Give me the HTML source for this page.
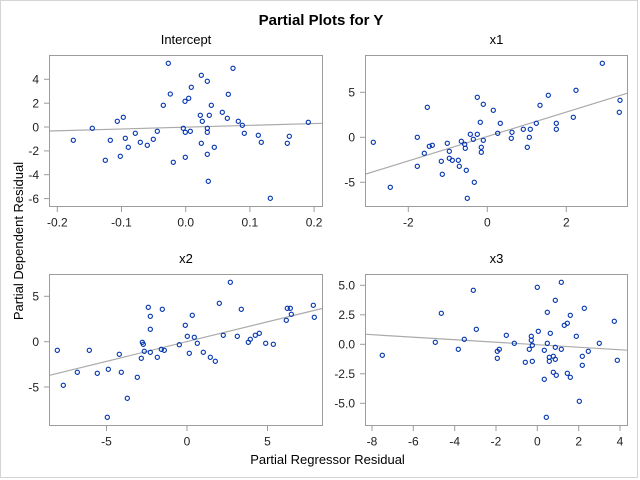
<!DOCTYPE html>
<html><head><meta charset="utf-8"><style>
html,body{margin:0;padding:0;background:#fff;}
svg{display:block;}
text{font-family:"Liberation Sans",Arial,sans-serif;}
.t{font-size:12px;fill:#222;}
.pt{font-size:13px;fill:#000;}
.f{fill:none;stroke:#9c9c9c;stroke-width:1;}
.tk{stroke:#9c9c9c;stroke-width:1;}
.rl{stroke:#aaaaaa;stroke-width:1.2;}
.m circle{fill:none;stroke:#0033b0;stroke-width:1.1;}
</style></head><body>
<svg width="640" height="480" viewBox="0 0 640 480" xmlns="http://www.w3.org/2000/svg">
<rect x="0" y="0" width="640" height="480" fill="#fff"/>
<rect x="0.5" y="0.5" width="637" height="477" fill="none" stroke="#d4d4d4" stroke-width="1"/>
<text x="321" y="25" text-anchor="middle" font-size="15" font-weight="bold" fill="#000">Partial Plots for Y</text>
<text x="327.5" y="464" text-anchor="middle" font-size="13" fill="#000">Partial Regressor Residual</text>
<text transform="translate(23,241) rotate(-90)" text-anchor="middle" font-size="13" fill="#000">Partial Dependent Residual</text>

<!-- Panel 1 Intercept -->
<text class="pt" x="186" y="44" text-anchor="middle">Intercept</text>
<line class="rl" x1="50" y1="131" x2="322" y2="123.3"/>
<rect class="f" x="49.5" y="55.5" width="273" height="151"/>
<g class="tk">
<line x1="44" y1="79.3" x2="49" y2="79.3"/><line x1="44" y1="103.2" x2="49" y2="103.2"/><line x1="44" y1="127" x2="49" y2="127"/><line x1="44" y1="150.9" x2="49" y2="150.9"/><line x1="44" y1="174.7" x2="49" y2="174.7"/><line x1="44" y1="198.6" x2="49" y2="198.6"/>
<line x1="57.3" y1="207" x2="57.3" y2="212"/><line x1="121.5" y1="207" x2="121.5" y2="212"/><line x1="185.7" y1="207" x2="185.7" y2="212"/><line x1="249.9" y1="207" x2="249.9" y2="212"/><line x1="314.1" y1="207" x2="314.1" y2="212"/>
</g>
<g class="t" text-anchor="end">
<text x="39" y="83.6">4</text><text x="39" y="107.5">2</text><text x="39" y="131.3">0</text><text x="39" y="155.2">-2</text><text x="39" y="179">-4</text><text x="39" y="202.9">-6</text>
</g>
<g class="t" text-anchor="middle">
<text x="57.3" y="226.5">-0.2</text><text x="121.5" y="226.5">-0.1</text><text x="185.7" y="226.5">0.0</text><text x="249.9" y="226.5">0.1</text><text x="314.1" y="226.5">0.2</text>
</g>
<g class="m">
<circle cx="168.3" cy="63.3" r="2.1"/><circle cx="233" cy="68.3" r="2.1"/><circle cx="201.3" cy="75.3" r="2.1"/><circle cx="207.3" cy="81.3" r="2.1"/><circle cx="191.3" cy="87.3" r="2.1"/><circle cx="170.3" cy="94" r="2.1"/><circle cx="228.3" cy="94.3" r="2.1"/><circle cx="188.7" cy="98.3" r="2.1"/><circle cx="185" cy="101.3" r="2.1"/><circle cx="163.3" cy="105.3" r="2.1"/><circle cx="211.3" cy="105.3" r="2.1"/><circle cx="222.3" cy="112.3" r="2.1"/><circle cx="200.3" cy="115.3" r="2.1"/><circle cx="209.3" cy="115.3" r="2.1"/><circle cx="123.3" cy="117.3" r="2.1"/><circle cx="227.3" cy="118.3" r="2.1"/><circle cx="117.3" cy="121.3" r="2.1"/><circle cx="202.3" cy="121.3" r="2.1"/><circle cx="238.3" cy="121.3" r="2.1"/><circle cx="308.3" cy="122.3" r="2.1"/><circle cx="242.3" cy="125.3" r="2.1"/><circle cx="92.3" cy="128.3" r="2.1"/><circle cx="183.3" cy="128.3" r="2.1"/><circle cx="207.3" cy="128.3" r="2.1"/><circle cx="157.3" cy="131.3" r="2.1"/><circle cx="190.3" cy="131.3" r="2.1"/><circle cx="185.3" cy="132.3" r="2.1"/><circle cx="207.3" cy="132.3" r="2.1"/><circle cx="135.3" cy="133.3" r="2.1"/><circle cx="244.3" cy="133.3" r="2.1"/><circle cx="258.3" cy="135.3" r="2.1"/><circle cx="289.3" cy="136.3" r="2.1"/><circle cx="73.3" cy="140.3" r="2.1"/><circle cx="110.3" cy="140.3" r="2.1"/><circle cx="125.3" cy="138.3" r="2.1"/><circle cx="153.3" cy="139.3" r="2.1"/><circle cx="140.3" cy="142.3" r="2.1"/><circle cx="261.3" cy="142.3" r="2.1"/><circle cx="201.3" cy="143.3" r="2.1"/><circle cx="287.3" cy="143.3" r="2.1"/><circle cx="147.3" cy="145.3" r="2.1"/><circle cx="128.3" cy="147.3" r="2.1"/><circle cx="214.3" cy="147.3" r="2.1"/><circle cx="207.3" cy="154.3" r="2.1"/><circle cx="120.3" cy="156.3" r="2.1"/><circle cx="185.3" cy="157.3" r="2.1"/><circle cx="105.3" cy="160.3" r="2.1"/><circle cx="173.3" cy="162.3" r="2.1"/><circle cx="208.3" cy="181.3" r="2.1"/><circle cx="270.3" cy="198.3" r="2.1"/>
</g>

<!-- Panel 2 x1 -->
<text class="pt" x="496.5" y="44" text-anchor="middle">x1</text>
<line class="rl" x1="366" y1="174" x2="627" y2="93.3"/>
<rect class="f" x="365.5" y="55.5" width="262" height="151"/>
<g class="tk">
<line x1="360" y1="92.3" x2="365" y2="92.3"/><line x1="360" y1="137.3" x2="365" y2="137.3"/><line x1="360" y1="182.3" x2="365" y2="182.3"/>
<line x1="408.3" y1="207" x2="408.3" y2="212"/><line x1="487.3" y1="207" x2="487.3" y2="212"/><line x1="566.3" y1="207" x2="566.3" y2="212"/>
</g>
<g class="t" text-anchor="end">
<text x="355" y="96.6">5</text><text x="355" y="141.6">0</text><text x="355" y="186.6">-5</text>
</g>
<g class="t" text-anchor="middle">
<text x="408.3" y="226.5">-2</text><text x="487.3" y="226.5">0</text><text x="566.3" y="226.5">2</text>
</g>
<g class="m">
<circle cx="602.3" cy="63.3" r="2.1"/><circle cx="477.3" cy="97.3" r="2.1"/><circle cx="576" cy="90.3" r="2.1"/><circle cx="548.3" cy="95.3" r="2.1"/><circle cx="427.3" cy="107.3" r="2.1"/><circle cx="483.3" cy="104.3" r="2.1"/><circle cx="540" cy="105.3" r="2.1"/><circle cx="493.3" cy="110.3" r="2.1"/><circle cx="620" cy="100.3" r="2.1"/><circle cx="619.3" cy="112.3" r="2.1"/><circle cx="573.3" cy="117.3" r="2.1"/><circle cx="480.3" cy="122.3" r="2.1"/><circle cx="500.3" cy="123.3" r="2.1"/><circle cx="556.3" cy="123.3" r="2.1"/><circle cx="536.3" cy="123.3" r="2.1"/><circle cx="556.3" cy="129.3" r="2.1"/><circle cx="523.3" cy="129.3" r="2.1"/><circle cx="530.3" cy="129.3" r="2.1"/><circle cx="497.7" cy="133.3" r="2.1"/><circle cx="512" cy="132.3" r="2.1"/><circle cx="470.3" cy="134.3" r="2.1"/><circle cx="477.3" cy="134.3" r="2.1"/><circle cx="417.3" cy="137.3" r="2.1"/><circle cx="511.3" cy="138.3" r="2.1"/><circle cx="529.3" cy="137.3" r="2.1"/><circle cx="473.3" cy="139.3" r="2.1"/><circle cx="483.3" cy="140.3" r="2.1"/><circle cx="373.3" cy="142.3" r="2.1"/><circle cx="461.3" cy="141.3" r="2.1"/><circle cx="447.3" cy="143.3" r="2.1"/><circle cx="464.7" cy="144.3" r="2.1"/><circle cx="432.3" cy="145.3" r="2.1"/><circle cx="429.3" cy="146.3" r="2.1"/><circle cx="465.3" cy="148.3" r="2.1"/><circle cx="481.3" cy="147.3" r="2.1"/><circle cx="527.3" cy="147.3" r="2.1"/><circle cx="449.3" cy="151.3" r="2.1"/><circle cx="481.3" cy="152.3" r="2.1"/><circle cx="424.3" cy="153.3" r="2.1"/><circle cx="449.3" cy="158.3" r="2.1"/><circle cx="458.3" cy="160.3" r="2.1"/><circle cx="452.3" cy="160.3" r="2.1"/><circle cx="441.3" cy="161.3" r="2.1"/><circle cx="459.3" cy="166.3" r="2.1"/><circle cx="417.3" cy="166.3" r="2.1"/><circle cx="466.3" cy="170.3" r="2.1"/><circle cx="442.3" cy="174.3" r="2.1"/><circle cx="474.3" cy="182.3" r="2.1"/><circle cx="390.3" cy="187.3" r="2.1"/><circle cx="467.3" cy="198.3" r="2.1"/>
</g>

<!-- Panel 3 x2 -->
<text class="pt" x="186" y="263" text-anchor="middle">x2</text>
<line class="rl" x1="50" y1="375.2" x2="322" y2="308.5"/>
<rect class="f" x="49.5" y="274.5" width="273" height="151"/>
<g class="tk">
<line x1="44" y1="296.3" x2="49" y2="296.3"/><line x1="44" y1="341.7" x2="49" y2="341.7"/><line x1="44" y1="387" x2="49" y2="387"/>
<line x1="106.5" y1="426" x2="106.5" y2="431"/><line x1="187" y1="426" x2="187" y2="431"/><line x1="267.5" y1="426" x2="267.5" y2="431"/>
</g>
<g class="t" text-anchor="end">
<text x="39" y="300.6">5</text><text x="39" y="346">0</text><text x="39" y="391.3">-5</text>
</g>
<g class="t" text-anchor="middle">
<text x="106.5" y="445.5">-5</text><text x="187" y="445.5">0</text><text x="267.5" y="445.5">5</text>
</g>
<g class="m">
<circle cx="230.3" cy="282.3" r="2.1"/><circle cx="219.3" cy="303.3" r="2.1"/><circle cx="148.3" cy="307.3" r="2.1"/><circle cx="313.3" cy="305.3" r="2.1"/><circle cx="162.3" cy="309.3" r="2.1"/><circle cx="241.3" cy="309.3" r="2.1"/><circle cx="287.3" cy="308.3" r="2.1"/><circle cx="290.3" cy="308.3" r="2.1"/><circle cx="192.3" cy="315.3" r="2.1"/><circle cx="150.3" cy="316.3" r="2.1"/><circle cx="291.3" cy="314.3" r="2.1"/><circle cx="314.3" cy="317.3" r="2.1"/><circle cx="286.3" cy="320.3" r="2.1"/><circle cx="185.3" cy="325.3" r="2.1"/><circle cx="150.3" cy="329.3" r="2.1"/><circle cx="223.3" cy="335.3" r="2.1"/><circle cx="237.3" cy="336.3" r="2.1"/><circle cx="194.3" cy="337.3" r="2.1"/><circle cx="259.3" cy="333.3" r="2.1"/><circle cx="255.3" cy="335.3" r="2.1"/><circle cx="250.3" cy="339.3" r="2.1"/><circle cx="248.3" cy="342.3" r="2.1"/><circle cx="265.7" cy="343.3" r="2.1"/><circle cx="273.3" cy="344.3" r="2.1"/><circle cx="187.3" cy="336.3" r="2.1"/><circle cx="197.3" cy="343.3" r="2.1"/><circle cx="179.3" cy="344.7" r="2.1"/><circle cx="142.3" cy="342.3" r="2.1"/><circle cx="143.3" cy="344.3" r="2.1"/><circle cx="57.3" cy="350.3" r="2.1"/><circle cx="89.3" cy="350.3" r="2.1"/><circle cx="161.3" cy="349.3" r="2.1"/><circle cx="164.3" cy="350.3" r="2.1"/><circle cx="144.3" cy="351.3" r="2.1"/><circle cx="150.3" cy="352.3" r="2.1"/><circle cx="189.3" cy="353.3" r="2.1"/><circle cx="203.3" cy="352.3" r="2.1"/><circle cx="119.3" cy="354.3" r="2.1"/><circle cx="157.3" cy="357.3" r="2.1"/><circle cx="210.3" cy="357.3" r="2.1"/><circle cx="141.3" cy="358.3" r="2.1"/><circle cx="215.3" cy="361.3" r="2.1"/><circle cx="108.3" cy="369.3" r="2.1"/><circle cx="77.3" cy="372.3" r="2.1"/><circle cx="121.3" cy="372.3" r="2.1"/><circle cx="97.3" cy="373.3" r="2.1"/><circle cx="137.3" cy="377.3" r="2.1"/><circle cx="63.3" cy="385.3" r="2.1"/><circle cx="127.3" cy="398.3" r="2.1"/><circle cx="107.3" cy="417.3" r="2.1"/>
</g>

<!-- Panel 4 x3 -->
<text class="pt" x="496.5" y="263" text-anchor="middle">x3</text>
<line class="rl" x1="366" y1="334.3" x2="627" y2="350.2"/>
<rect class="f" x="365.5" y="274.5" width="262" height="151"/>
<g class="tk">
<line x1="360" y1="285.3" x2="365" y2="285.3"/><line x1="360" y1="314.8" x2="365" y2="314.8"/><line x1="360" y1="344.3" x2="365" y2="344.3"/><line x1="360" y1="373.8" x2="365" y2="373.8"/><line x1="360" y1="403.3" x2="365" y2="403.3"/>
<line x1="372" y1="426" x2="372" y2="431"/><line x1="413.3" y1="426" x2="413.3" y2="431"/><line x1="454.7" y1="426" x2="454.7" y2="431"/><line x1="496" y1="426" x2="496" y2="431"/><line x1="537.3" y1="426" x2="537.3" y2="431"/><line x1="578.7" y1="426" x2="578.7" y2="431"/><line x1="620" y1="426" x2="620" y2="431"/>
</g>
<g class="t" text-anchor="end">
<text x="355" y="289.6">5.0</text><text x="355" y="319.1">2.5</text><text x="355" y="348.6">0.0</text><text x="355" y="378.1">-2.5</text><text x="355" y="407.6">-5.0</text>
</g>
<g class="t" text-anchor="middle">
<text x="372" y="445.5">-8</text><text x="413.3" y="445.5">-6</text><text x="454.7" y="445.5">-4</text><text x="496" y="445.5">-2</text><text x="537.3" y="445.5">0</text><text x="578.7" y="445.5">2</text><text x="620" y="445.5">4</text>
</g>
<g class="m">
<circle cx="561.3" cy="282.3" r="2.1"/><circle cx="537.3" cy="287.3" r="2.1"/><circle cx="473.3" cy="290.3" r="2.1"/><circle cx="555.3" cy="300.3" r="2.1"/><circle cx="441.3" cy="313.3" r="2.1"/><circle cx="547.3" cy="312.3" r="2.1"/><circle cx="584.3" cy="308.3" r="2.1"/><circle cx="570.3" cy="315.3" r="2.1"/><circle cx="614.3" cy="321.3" r="2.1"/><circle cx="567.3" cy="323.3" r="2.1"/><circle cx="564.3" cy="325.3" r="2.1"/><circle cx="476.3" cy="329.3" r="2.1"/><circle cx="538.3" cy="331.3" r="2.1"/><circle cx="550.3" cy="333.3" r="2.1"/><circle cx="506.3" cy="335.3" r="2.1"/><circle cx="576.3" cy="336.3" r="2.1"/><circle cx="531.3" cy="336.3" r="2.1"/><circle cx="531.3" cy="340.3" r="2.1"/><circle cx="435.3" cy="342.3" r="2.1"/><circle cx="514.3" cy="343.3" r="2.1"/><circle cx="547.3" cy="343.3" r="2.1"/><circle cx="599.3" cy="343.3" r="2.1"/><circle cx="532.3" cy="345.3" r="2.1"/><circle cx="555.3" cy="347.3" r="2.1"/><circle cx="464.3" cy="339.3" r="2.1"/><circle cx="458.3" cy="349.3" r="2.1"/><circle cx="499.3" cy="349.3" r="2.1"/><circle cx="529.3" cy="349.3" r="2.1"/><circle cx="561.3" cy="349.3" r="2.1"/><circle cx="544.3" cy="350.3" r="2.1"/><circle cx="588.3" cy="351.3" r="2.1"/><circle cx="497.3" cy="351.3" r="2.1"/><circle cx="382.3" cy="355.3" r="2.1"/><circle cx="582.3" cy="356.3" r="2.1"/><circle cx="553.3" cy="356.3" r="2.1"/><circle cx="549.3" cy="357.3" r="2.1"/><circle cx="497.3" cy="358.3" r="2.1"/><circle cx="555.3" cy="359.3" r="2.1"/><circle cx="617.3" cy="360.3" r="2.1"/><circle cx="549.3" cy="361.3" r="2.1"/><circle cx="525.3" cy="362.3" r="2.1"/><circle cx="532.3" cy="361.3" r="2.1"/><circle cx="582.3" cy="365.3" r="2.1"/><circle cx="553.3" cy="372.3" r="2.1"/><circle cx="567.3" cy="373.3" r="2.1"/><circle cx="556.3" cy="375.3" r="2.1"/><circle cx="570.3" cy="377.3" r="2.1"/><circle cx="544.3" cy="379.3" r="2.1"/><circle cx="579.3" cy="401.3" r="2.1"/><circle cx="546.3" cy="417.3" r="2.1"/>
</g>
</svg>
</body></html>
